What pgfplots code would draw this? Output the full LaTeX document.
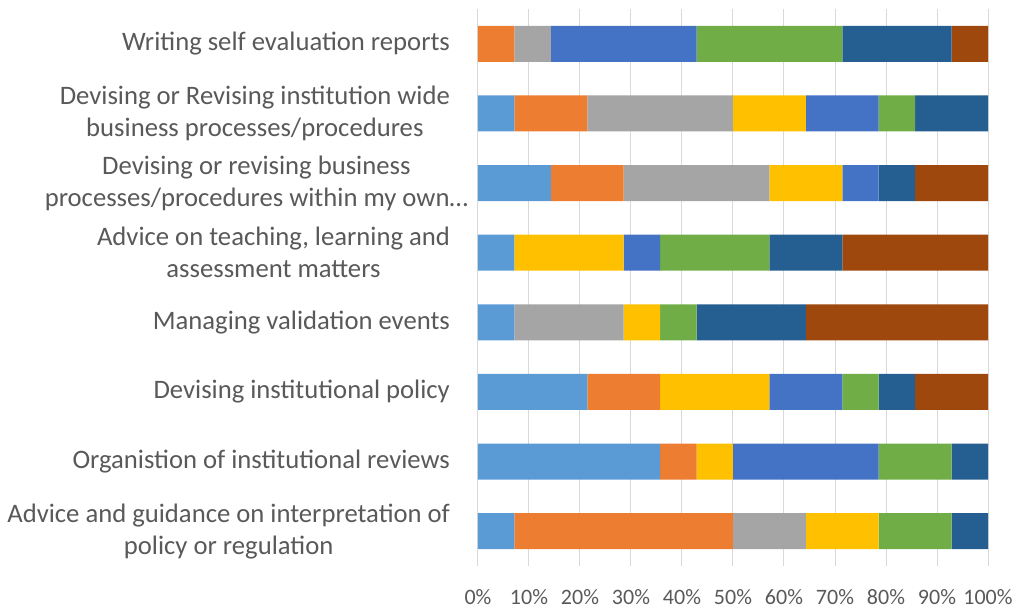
\documentclass[border=0pt]{standalone}
\usepackage{pgfplots}
\pgfplotsset{compat=1.18}
\usepackage{pgfplotstable}
\usepackage{fontspec}
\setmainfont{Carlito}

\definecolor{lb}{HTML}{5B9BD5}
\definecolor{orr}{HTML}{ED7D31}
\definecolor{gr}{HTML}{A5A5A5}
\definecolor{gd}{HTML}{FFC000}
\definecolor{bl}{HTML}{4472C4}
\definecolor{gn}{HTML}{70AD47}
\definecolor{db}{HTML}{255E91}
\definecolor{br}{HTML}{9E480E}
\definecolor{labelgray}{HTML}{595959}
\definecolor{gridgray}{HTML}{D9D9D9}

% number of responses (out of 14) per category, bottom row first
\pgfplotstableread{
y lb or gr gd bl gn db br
0 1 6 2 2 0 2 1 0
1 5 1 0 1 4 2 1 0
2 3 2 0 3 2 1 1 2
3 1 0 3 1 0 1 3 5
4 1 0 0 3 1 3 2 4
5 2 2 4 2 1 0 1 2
6 1 2 4 2 2 1 2 0
7 0 1 1 0 4 4 3 1
}\counts

\begin{document}
\begin{tikzpicture}
\useasboundingbox (-358.5pt,-35.25pt) rectangle (403.5pt,424.5pt);
\begin{axis}[
    xbar stacked,
    scale only axis,
    width=382.5pt, height=417.75pt,
    xmin=0, xmax=14,
    ymin=-0.5, ymax=7.5,
    bar width=27pt,
    xtick={0,1.4,2.8,4.2,5.6,7,8.4,9.8,11.2,12.6,14},
    xticklabels={0\%,10\%,20\%,30\%,40\%,50\%,60\%,70\%,80\%,90\%,100\%},
    ytick={0,1,2,3,4,5,6,7},
    yticklabels={
        {Advice and guidance on interpretation of\\policy or regulation},
        {Organistion of institutional reviews},
        {Devising institutional policy},
        {Managing validation events},
        {Advice on teaching, learning and\\assessment matters},
        {Devising or revising business\hspace*{-13.5pt}\\processes/procedures within my own…\hspace*{-13.5pt}},
        {Devising or Revising institution wide\\business processes/procedures},
        {Writing self evaluation reports}},
    yticklabel style={align=center, font=\fontsize{20}{24}\selectfont, text=labelgray, xshift=-17.5pt},
    xticklabel style={font=\fontsize{16.5}{20}\selectfont, text=labelgray, yshift=-14pt},
    xmajorgrids,
    grid style={color=gridgray, line width=0.75pt},
    axis line style={draw=none},
    major tick style={draw=none},
]
\addplot[fill=lb, draw=none] table[x=lb, y=y]{\counts};
\addplot[fill=orr, draw=none] table[x=or, y=y]{\counts};
\addplot[fill=gr, draw=none] table[x=gr, y=y]{\counts};
\addplot[fill=gd, draw=none] table[x=gd, y=y]{\counts};
\addplot[fill=bl, draw=none] table[x=bl, y=y]{\counts};
\addplot[fill=gn, draw=none] table[x=gn, y=y]{\counts};
\addplot[fill=db, draw=none] table[x=db, y=y]{\counts};
\addplot[fill=br, draw=none] table[x=br, y=y]{\counts};
\end{axis}
\end{tikzpicture}
\end{document}
